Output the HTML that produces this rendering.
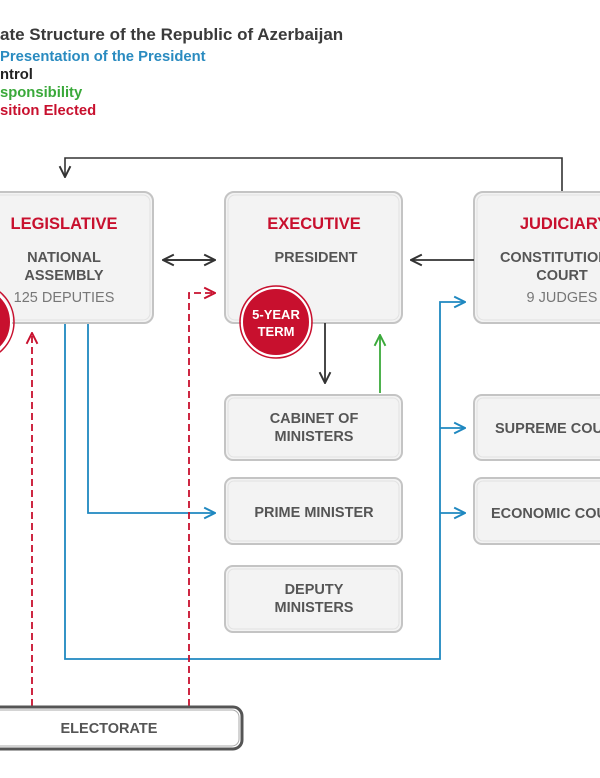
<!DOCTYPE html>
<html><head><meta charset="utf-8"><style>
html,body{margin:0;padding:0;background:#fff;}
svg{display:block;font-family:"Liberation Sans",Arial,sans-serif;font-weight:bold;}
</style></head><body>
<svg width="600" height="778" viewBox="0 0 600 778" xmlns="http://www.w3.org/2000/svg">
<defs>
<marker id="ak" viewBox="0 0 12 12" refX="11" refY="6" markerWidth="13" markerHeight="13" markerUnits="userSpaceOnUse" orient="auto"><path d="M1,1 L11,6 L1,11" fill="none" stroke="#333" stroke-width="1.8"/></marker>
<marker id="ab" viewBox="0 0 12 12" refX="11" refY="6" markerWidth="13" markerHeight="13" markerUnits="userSpaceOnUse" orient="auto"><path d="M1,1 L11,6 L1,11" fill="none" stroke="#1f88c0" stroke-width="1.8"/></marker>
<marker id="ar" viewBox="0 0 12 12" refX="11" refY="6" markerWidth="13" markerHeight="13" markerUnits="userSpaceOnUse" orient="auto"><path d="M1,1 L11,6 L1,11" fill="none" stroke="#c8102e" stroke-width="1.8"/></marker>
<marker id="ag" viewBox="0 0 12 12" refX="11" refY="6" markerWidth="13" markerHeight="13" markerUnits="userSpaceOnUse" orient="auto"><path d="M1,1 L11,6 L1,11" fill="none" stroke="#3aa93a" stroke-width="1.8"/></marker>
</defs>
<text x="0" y="40" font-size="17" fill="#3a3a3a">ate Structure of the Republic of Azerbaijan</text>
<text x="0" y="61" font-size="14.8" fill="#2a8bc0">Presentation of the President</text>
<text x="0" y="79" font-size="14.8" fill="#222">ntrol</text>
<text x="0" y="97" font-size="14.8" fill="#3aa93a">sponsibility</text>
<text x="0" y="115" font-size="14.8" fill="#c8102e">sition Elected</text>

<path d="M562,191 V158 H65 V177" fill="none" stroke="#333" stroke-width="1.6" marker-end="url(#ak)"/>

<path d="M65,323 V659 H440 V302 H465" fill="none" stroke="#1f88c0" stroke-width="1.8" marker-end="url(#ab)"/>
<path d="M440,428 H465" fill="none" stroke="#1f88c0" stroke-width="1.8" marker-end="url(#ab)"/>
<path d="M440,513 H465" fill="none" stroke="#1f88c0" stroke-width="1.8" marker-end="url(#ab)"/>
<path d="M88,323 V513 H215" fill="none" stroke="#1f88c0" stroke-width="1.8" marker-end="url(#ab)"/>

<path d="M32,706 V333" fill="none" stroke="#c8102e" stroke-width="1.8" stroke-dasharray="7,4" marker-end="url(#ar)"/>
<path d="M189,706 V293 H215" fill="none" stroke="#c8102e" stroke-width="1.8" stroke-dasharray="7,4" marker-end="url(#ar)"/>

<g fill="#f3f3f3" stroke="#c4c4c4" stroke-width="2">
<rect x="-20" y="192" width="173" height="131" rx="9"/>
<rect x="225" y="192" width="177" height="131" rx="9"/>
<rect x="474" y="192" width="150" height="131" rx="9"/>
<rect x="225" y="395" width="177" height="65" rx="8"/>
<rect x="225" y="478" width="177" height="66" rx="8"/>
<rect x="225" y="566" width="177" height="66" rx="8"/>
<rect x="474" y="395" width="150" height="65" rx="8"/>
<rect x="474" y="478" width="150" height="66" rx="8"/>
</g>
<g fill="none" stroke="#e2e2e2" stroke-width="1">
<rect x="-17" y="195" width="167" height="125" rx="7"/>
<rect x="228" y="195" width="171" height="125" rx="7"/>
<rect x="477" y="195" width="144" height="125" rx="7"/>
<rect x="228" y="398" width="171" height="59" rx="6"/>
<rect x="228" y="481" width="171" height="60" rx="6"/>
<rect x="228" y="569" width="171" height="60" rx="6"/>
<rect x="477" y="398" width="144" height="59" rx="6"/>
<rect x="477" y="481" width="144" height="60" rx="6"/>
</g>
<rect x="-20" y="707" width="262" height="42" rx="9" fill="#fff" stroke="#555" stroke-width="3"/>
<rect x="-17" y="710" width="256" height="36" rx="7" fill="none" stroke="#aaa" stroke-width="1"/>

<path d="M163,260 H215" fill="none" stroke="#333" stroke-width="1.8" marker-end="url(#ak)"/>
<path d="M215,260 H163" fill="none" stroke="#333" stroke-width="1.8" marker-end="url(#ak)"/>
<path d="M474,260 H411" fill="none" stroke="#333" stroke-width="1.8" marker-end="url(#ak)"/>
<path d="M325,323 V383" fill="none" stroke="#333" stroke-width="1.8" marker-end="url(#ak)"/>
<path d="M380,393 V335" fill="none" stroke="#3aa93a" stroke-width="1.8" marker-end="url(#ag)"/>

<circle cx="-25" cy="322" r="36" fill="#c8102e" stroke="#fff" stroke-width="2"/>
<circle cx="-25" cy="322" r="39" fill="none" stroke="#c8102e" stroke-width="1.5"/>
<circle cx="276" cy="322" r="34" fill="#c8102e" stroke="#fff" stroke-width="2"/>
<circle cx="276" cy="322" r="36" fill="none" stroke="#c8102e" stroke-width="1.5"/>
<text x="276" y="319" font-size="13" fill="#fff" text-anchor="middle">5-YEAR</text>
<text x="276" y="336" font-size="13" fill="#fff" text-anchor="middle">TERM</text>

<g text-anchor="middle">
<text x="64" y="229" font-size="16.5" fill="#c8102e">LEGISLATIVE</text>
<text x="64" y="262" font-size="14.5" fill="#555">NATIONAL</text>
<text x="64" y="280" font-size="14.5" fill="#555">ASSEMBLY</text>
<text x="64" y="302" font-size="14.5" fill="#777" font-weight="normal">125 DEPUTIES</text>
<text x="314" y="229" font-size="16.5" fill="#c8102e">EXECUTIVE</text>
<text x="316" y="262" font-size="14.5" fill="#555">PRESIDENT</text>
<text x="564" y="229" font-size="16.5" fill="#c8102e">JUDICIARY</text>
<text x="564" y="262" font-size="14.5" fill="#555">CONSTITUTIONAL</text>
<text x="562" y="280" font-size="14.5" fill="#555">COURT</text>
<text x="562" y="302" font-size="14.5" fill="#777" font-weight="normal">9 JUDGES</text>
<text x="314" y="423" font-size="14.5" fill="#555">CABINET OF</text>
<text x="314" y="441" font-size="14.5" fill="#555">MINISTERS</text>
<text x="314" y="517" font-size="14.5" fill="#555">PRIME MINISTER</text>
<text x="314" y="594" font-size="14.5" fill="#555">DEPUTY</text>
<text x="314" y="612" font-size="14.5" fill="#555">MINISTERS</text>
<text x="495" y="433" font-size="14.5" fill="#555" text-anchor="start">SUPREME COURT</text>
<text x="491" y="518" font-size="14.5" fill="#555" text-anchor="start">ECONOMIC COURT</text>
<text x="109" y="733" font-size="14.5" fill="#555">ELECTORATE</text>
</g>
</svg>
</body></html>
